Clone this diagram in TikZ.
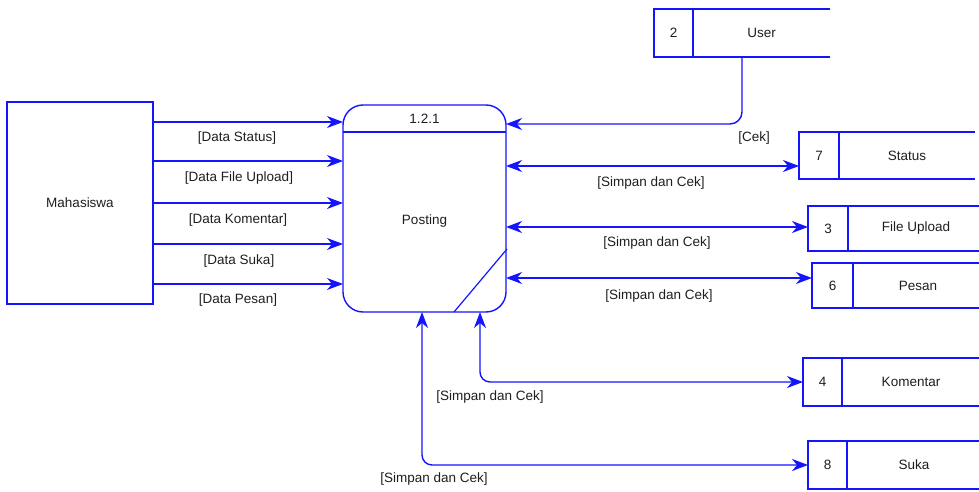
\documentclass[tikz,border=0pt]{standalone}
\usepackage{fontspec}
\setmainfont{Liberation Sans}
\usetikzlibrary{arrows.meta,calc}
\definecolor{dfd}{RGB}{20,20,255}
\definecolor{txt}{RGB}{30,30,30}
\begin{document}
\begin{tikzpicture}[x=1pt,y=-1pt,
  every node/.style={font=\fontsize{13.5}{15}\selectfont,text=txt,inner sep=0pt,outer sep=0pt},
  ln/.style={draw=dfd,line width=1.4pt},
  flow/.style={ln,-{Stealth[length=16pt,width=12pt,inset=5pt]}},
  bflow/.style={ln,{Stealth[length=16pt,width=12pt,inset=5pt]}-{Stealth[length=16pt,width=12pt,inset=5pt]}},
  cell/.style={ln,rectangle,minimum width=#1,minimum height=47pt,anchor=north west},
  ent/.style={ln,rectangle,anchor=north west},
  proc/.style={ln,rectangle,rounded corners=20pt,anchor=north west},
  lbl/.style={}
]
\useasboundingbox (0,0) rectangle (979,492);
% External entity
\node[ent,minimum width=146pt,minimum height=202pt] (m) at (7,102) {};
\node at (m.center) {Mahasiswa};
% Process
\node[proc,minimum width=163pt,minimum height=207pt] (p) at (343,105) {};
\draw[ln] (p.west |- {(0,132)}) -- (p.east |- {(0,132)});
\node (pid) at (424.5,119) {1.2.1};
\node (pname) at (424.5,221) {Posting};
\draw[ln,line width=1.2pt] (454,312) -- (507,249);
% Stores
\node[cell=39pt,minimum height=48pt] (s2) at (654,9) {};
\node at (s2.center) {2};
\node (n2) at (761.5,33) {User};
\draw[ln] (s2.north east) -- (830,9) (s2.south east) -- (830,57);

\node[cell=40pt] (s7) at (799,132) {};
\node at (s7.center) {7};
\node (n7) at (907,155.5) {Status};
\draw[ln] (s7.north east) -- (975,132) (s7.south east) -- (975,179);

\node[cell=40pt,minimum height=45pt] (s3) at (808,206) {};
\node at (s3.center) {3};
\node (n3) at (916,228.5) {File Upload};
\draw[ln] (s3.north east) -- (980,206) (s3.south east) -- (980,251);

\node[cell=41pt,minimum height=45pt] (s6) at (812,263) {};
\node at (s6.center) {6};
\node (n6) at (918,285.5) {Pesan};
\draw[ln] (s6.north east) -- (980,263) (s6.south east) -- (980,308);

\node[cell=39pt,minimum height=48pt] (s4) at (803,358) {};
\node at (s4.center) {4};
\node (n4) at (911,382) {Komentar};
\draw[ln] (s4.north east) -- (980,358) (s4.south east) -- (980,406);

\node[cell=39pt,minimum height=48pt] (s8) at (808,441) {};
\node at (s8.center) {8};
\node (n8) at (914,465) {Suka};
\draw[ln] (s8.north east) -- (980,441) (s8.south east) -- (980,489);

% Flows from Mahasiswa
\draw[flow] (m.east |- {(0,122)}) -- (p.west |- {(0,122)});
\draw[flow] (m.east |- {(0,161)}) -- (p.west |- {(0,161)});
\draw[flow] (m.east |- {(0,203)}) -- (p.west |- {(0,203)});
\draw[flow] (m.east |- {(0,244)}) -- (p.west |- {(0,244)});
\draw[flow] (m.east |- {(0,284)}) -- (p.west |- {(0,284)});
\node[lbl] at (237,138) {[Data Status]};
\node[lbl] at (239,178) {[Data File Upload]};
\node[lbl] at (238,220) {[Data Komentar]};
\node[lbl] at (239,261) {[Data Suka]};
\node[lbl] at (238,300) {[Data Pesan]};

% User flow
\draw[flow,rounded corners=12pt] (s2.south east -| {(742,0)}) -- (742,124) -- (p.east |- {(0,124)});
\node[lbl] at (754,138) {[Cek]};
% Store flows
\draw[bflow] (p.east |- {(0,166)}) -- (s7.west |- {(0,166)});
\node[lbl] at (651,183) {[Simpan dan Cek]};
\draw[bflow] (p.east |- {(0,227)}) -- (s3.west |- {(0,227)});
\node[lbl] at (657,243) {[Simpan dan Cek]};
\draw[bflow] (p.east |- {(0,278)}) -- (s6.west |- {(0,278)});
\node[lbl] at (659,296) {[Simpan dan Cek]};
\draw[bflow,rounded corners=10pt] (p.south -| {(480,0)}) -- (480,382) -- (s4.west |- {(0,382)});
\node[lbl] at (490,397) {[Simpan dan Cek]};
\draw[bflow,rounded corners=10pt] (p.south -| {(422,0)}) -- (422,465) -- (s8.west |- {(0,465)});
\node[lbl] at (434,479) {[Simpan dan Cek]};
\end{tikzpicture}
\end{document}
